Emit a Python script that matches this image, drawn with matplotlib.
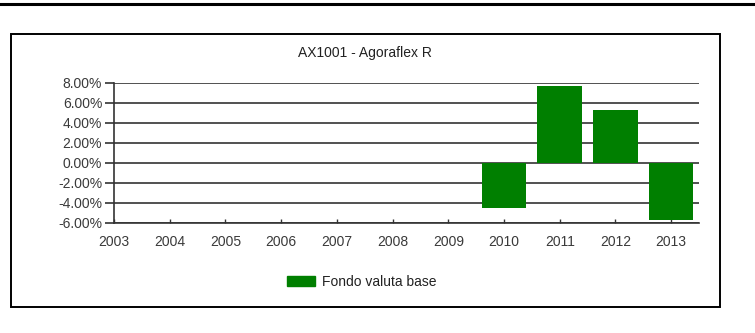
import matplotlib
matplotlib.use("Agg")
import matplotlib.pyplot as plt
from matplotlib.lines import Line2D
from matplotlib.patches import Rectangle
from matplotlib.ticker import FuncFormatter

# --- data ---
years = [2003, 2004, 2005, 2006, 2007, 2008, 2009, 2010, 2011, 2012, 2013]
bar_years = [2010, 2011, 2012, 2013]
returns = [-4.5, 7.7, 5.3, -5.7]   # yearly return, %
y_ticks = [-6, -4, -2, 0, 2, 4, 6, 8]

title = "AX1001 - Agoraflex R"
series_name = "Fondo valuta base"

plt.rcParams['font.family'] = ['Liberation Sans', 'DejaVu Sans']
plt.rcParams['font.size'] = 10

W, H = 755, 333
fig = plt.figure(figsize=(W / 100, H / 100), dpi=100)

# pixel helpers (top-left origin) -> figure fraction
fx = lambda x: x / W
fy = lambda y: 1 - y / H

# thick rule at the very top of the page
fig.add_artist(Line2D([0, 1], [fy(4), fy(4)], color='black', lw=2.2))

# frame round the chart
fig.add_artist(Rectangle((fx(11), fy(307)), fx(720) - fx(11), fy(34) - fy(307),
                         fill=False, edgecolor='black', lw=1.4))

ax = fig.add_axes([fx(114), fy(223), fx(699) - fx(114), fy(83) - fy(223)])
ax.bar(bar_years, returns, width=0.8, color='#007f00', zorder=3)

grid_col = '#333333'
ax.set_xlim(2003, 2013.5)
ax.set_ylim(-6, 8)
ax.set_yticks(y_ticks)
ax.set_xticks(years)
ax.yaxis.set_major_formatter(FuncFormatter(lambda v, p: f"{v:.2f}%"))
ax.grid(axis='y', color=grid_col, lw=1.2, zorder=1)

for s in ['top', 'right']:
    ax.spines[s].set_visible(False)
for s in ['left', 'bottom']:
    ax.spines[s].set_color(grid_col)
    ax.spines[s].set_linewidth(1.2)

ax.tick_params(axis='y', direction='out', length=6.5, width=1.2, color=grid_col,
               pad=2, labelcolor='#3a3a3a', labelsize=10)
ax.tick_params(axis='x', direction='in', length=3, width=1, color=grid_col,
               pad=9, labelcolor='#3a3a3a', labelsize=10)

fig.text(fx(365), fy(53), title, ha='center', va='center', fontsize=10, color='#222222')

handle = Rectangle((0, 0), 1, 1, color='#007f00')
fig.legend([handle], [series_name], loc='center left',
           bbox_to_anchor=(fx(287), fy(282)), frameon=False, borderpad=0,
           borderaxespad=0, handlelength=2.0, handleheight=0.8, handletextpad=0.55,
           fontsize=10, labelcolor='#222222')

fig.savefig("out.png", dpi=100)
